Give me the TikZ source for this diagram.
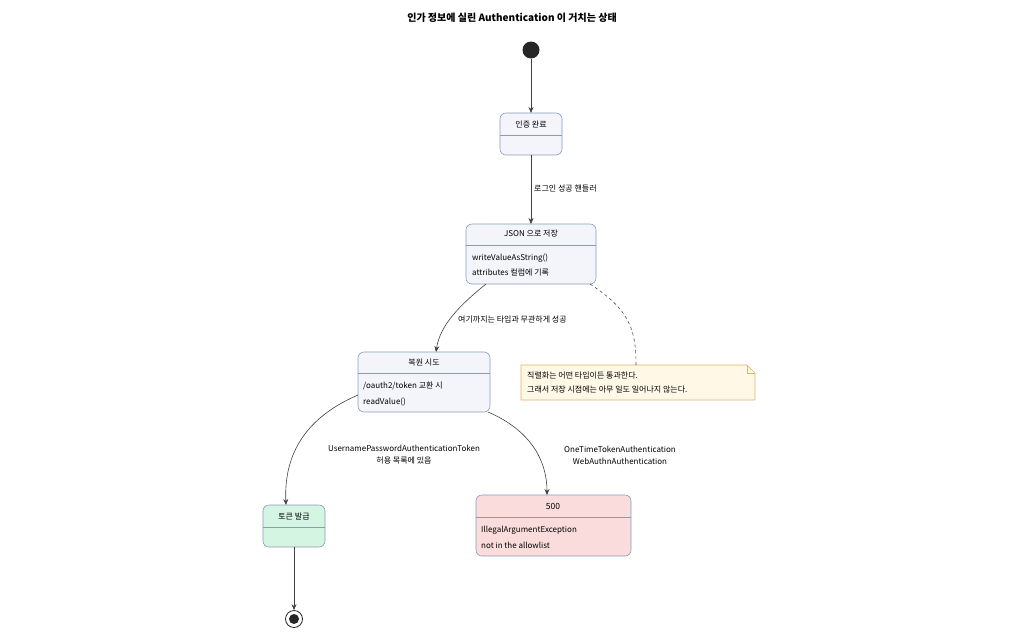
\documentclass[tikz,border=0pt]{standalone}
\usepackage{fontspec}
\setmainfont{Noto Sans CJK KR}
\usetikzlibrary{arrows.meta}
\definecolor{bfill}{HTML}{F3F5FA}
\definecolor{bline}{HTML}{8A9BBA}
\definecolor{gfill}{HTML}{D4F5E2}
\definecolor{rfill}{HTML}{FADCDC}
\definecolor{nfill}{HTML}{FFF8E6}
\definecolor{nline}{HTML}{D9B66A}
\begin{document}
\begin{tikzpicture}[x=1pt,y=-1pt,
  st/.style={draw=bline,fill=bfill,rounded corners=6pt,line width=0.6pt},
  tx/.style={font=\fontsize{8}{9}\selectfont,inner sep=0pt},
  arr/.style={-{Stealth[length=6pt,width=5pt]},draw=black!75,line width=0.6pt}]
\useasboundingbox (0,0) rectangle (1024,640);
\node[font=\fontsize{10}{12}\selectfont\bfseries] (title) at (512,18) {인가 정보에 실린 Authentication 이 거치는 상태};
\node[circle,fill=black!85,minimum size=17pt,inner sep=0pt] (start) at (531,50) {};
% box 1
\draw[st] (500,113) rectangle (562,155); \draw[bline,line width=0.6pt] (500,135)--(562,135);
\node[tx] (b1) at (531,124) {인증 완료};
\coordinate (b1t) at (531,113); \coordinate (b1b) at (531,155);
% box 2
\draw[st] (466,224) rectangle (596,284); \draw[bline,line width=0.6pt] (466,245)--(596,245);
\node[tx] (b2) at (531,234) {JSON 으로 저장};
\node[tx,anchor=west] (b2a) at (472,258) {writeValueAsString()};
\node[tx,anchor=west] (b2b) at (472,272) {attributes 컬럼에 기록};
\coordinate (b2t) at (531,224);
% box 3
\draw[st] (358,352) rectangle (490,412); \draw[bline,line width=0.6pt] (358,373)--(490,373);
\node[tx] (b3) at (424,363) {복원 시도};
\node[tx,anchor=west] (b3a) at (363,386) {/oauth2/token 교환 시};
\node[tx,anchor=west] (b3b) at (363,402) {readValue()};
% box 4
\draw[st,fill=gfill] (263,505) rectangle (325,547); \draw[bline,line width=0.6pt] (263,527)--(325,527);
\node[tx] (b4) at (294,516) {토큰 발급};
% box 5
\draw[st,fill=rfill] (476,495) rectangle (631,556); \draw[bline,line width=0.6pt] (476,517)--(631,517);
\node[tx,font=\fontsize{8.5}{9}\selectfont] (b5) at (553,506) {500};
\node[tx,anchor=west] (b5a) at (481,530) {IllegalArgumentException};
\node[tx,anchor=west] (b5b) at (481,545) {not in the allowlist};
% note
\draw[nline,fill=nfill,line width=0.6pt] (521,365)--(747,365)--(755,373)--(755,400)--(521,400)--cycle;
\draw[nline,line width=0.6pt] (747,365)--(747,373)--(755,373);
\node[tx,anchor=west] (n1) at (527,376) {직렬화는 어떤 타입이든 통과한다.};
\node[tx,anchor=west] (n2) at (527,390) {그래서 저장 시점에는 아무 일도 일어나지 않는다.};
\draw[black!70,dashed,line width=0.6pt] (590,284) .. controls (630,310) and (636,330) .. (636,365);
% end
\node[circle,draw=black!85,line width=0.8pt,minimum size=17pt,inner sep=0pt] (end) at (294,619) {};
\node[circle,fill=black!85,minimum size=10pt,inner sep=0pt] at (294,619) {};
% arrows
\draw[arr] (start) -- (b1t);
\draw[arr] (b1b) -- (b2t);
\node[tx,anchor=west] (l1) at (534,189) {로그인 성공 핸들러};
\draw[arr] (486,284) .. controls (460,305) and (440,325) .. (436,352);
\node[tx,anchor=west] (l2) at (458,320) {여기까지는 타입과 무관하게 성공};
\draw[arr] (358,395) .. controls (300,420) and (284,460) .. (286,505);
\node[tx,align=center] (l3) at (404,455) {UsernamePasswordAuthenticationToken\\[3pt]허용 목록에 있음};
\draw[arr] (488,412) .. controls (530,430) and (547,460) .. (547,495);
\node[tx,align=center] (l4) at (620,455) {OneTimeTokenAuthentication\\[3pt]WebAuthnAuthentication};
\draw[arr] (294,547) -- (end);
\end{tikzpicture}
\end{document}
